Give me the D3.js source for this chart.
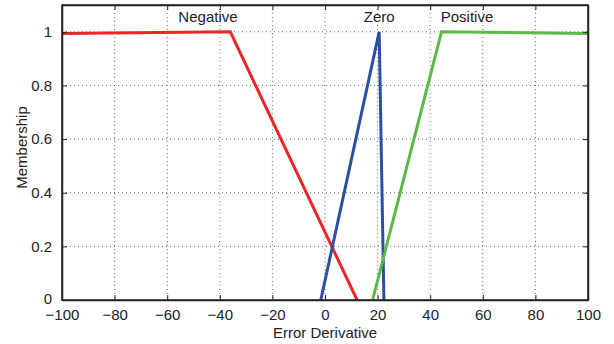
<!DOCTYPE html>
<html>
<head>
<meta charset="utf-8">
<script src="https://cdn.jsdelivr.net/npm/d3@7"></script>
<style>
  body { margin: 0; background: #fff; }
  text { font-family: "Liberation Sans", Arial, sans-serif; fill: #222; }
</style>
</head>
<body>
<div id="chart"></div>
<script>
// membership functions (x = error derivative, y = membership)
const negativeX = [-100, -36, 12.2];
const negativeY = [0.994, 1, 0];
const zeroX = [-1.6, 20.6, 22.4];
const zeroY = [0, 1, 0];
const positiveX = [18.1, 44.3, 100];
const positiveY = [0, 1, 0.994];

const setNames = ["Negative", "Zero", "Positive"];
const setLabelX = [-44.5, 20.6, 54];
const setColors = ["#ec2527", "#2c4ea3", "#5cb948"];

const xTicks = [-100, -80, -60, -40, -20, 0, 20, 40, 60, 80, 100];
const yTicks = [0, 0.2, 0.4, 0.6, 0.8, 1];

const totalWidth = 614, totalHeight = 344;
const margin = {top: 5, right: 26, bottom: 44, left: 62};
const width = totalWidth - margin.left - margin.right;
const height = totalHeight - margin.top - margin.bottom;

const svg = d3.select("#chart")
  .append("svg")
  .attr("width", totalWidth)
  .attr("height", totalHeight)
  .append("g")
  .attr("transform", "translate(" + margin.left + "," + margin.top + ")");

const x = d3.scaleLinear().domain([-100, 100]).range([0, width]);
const y = d3.scaleLinear().domain([0, 1.1]).range([height, 0]);

// dotted grid
svg.append("g")
  .selectAll("line")
  .data(xTicks.slice(1, -1))
  .enter()
  .append("line")
  .attr("x1", d => x(d)).attr("x2", d => x(d))
  .attr("y1", 0).attr("y2", height)
  .attr("stroke", "#444").attr("stroke-width", 0.8)
  .attr("stroke-dasharray", "1,3");
svg.append("g")
  .selectAll("line")
  .data(yTicks.slice(1))
  .enter()
  .append("line")
  .attr("x1", 0).attr("x2", width)
  .attr("y1", d => y(d)).attr("y2", d => y(d))
  .attr("stroke", "#444").attr("stroke-width", 0.8)
  .attr("stroke-dasharray", "1,3");

// curves
const line = d3.line().x(d => x(d[0])).y(d => y(d[1]));
const series = [
  d3.zip(negativeX, negativeY),
  d3.zip(zeroX, zeroY),
  d3.zip(positiveX, positiveY)
];
svg.selectAll("path.mf")
  .data(series)
  .enter()
  .append("path")
  .attr("class", "mf")
  .attr("d", line)
  .attr("fill", "none")
  .attr("stroke", (d, i) => setColors[i])
  .attr("stroke-width", 3)
  .attr("stroke-linejoin", "miter");

// axes with inward ticks (box style)
const tickLen = 5;
svg.append("g")
  .attr("transform", "translate(0," + height + ")")
  .call(d3.axisBottom(x).tickValues(xTicks).tickSizeInner(-tickLen).tickSizeOuter(0).tickPadding(9)
    .tickFormat(d => d < 0 ? "\u2212" + Math.abs(d) : d))
  .call(g => g.selectAll("text").style("font-size", "15px").attr("fill", "#222"));
svg.append("g")
  .call(d3.axisTop(x).tickValues(xTicks).tickSizeInner(-tickLen).tickSizeOuter(0).tickFormat(""));
svg.append("g")
  .call(d3.axisLeft(y).tickValues(yTicks).tickSizeInner(-tickLen).tickSizeOuter(0).tickPadding(10)
    .tickFormat(d3.format("")))
  .call(g => g.selectAll("text").style("font-size", "15px").attr("fill", "#222"))
  .call(g => g.selectAll(".tick").filter(d => d === 0).select("text").attr("dy", "0.2em"));
svg.append("g")
  .attr("transform", "translate(" + width + ",0)")
  .call(d3.axisRight(y).tickValues(yTicks).tickSizeInner(-tickLen).tickSizeOuter(0).tickFormat(""));

svg.selectAll(".domain").attr("stroke", "#222").attr("stroke-width", 1.5);
svg.selectAll(".tick line").attr("stroke", "#222");

// outer box
svg.append("rect")
  .attr("width", width).attr("height", height)
  .attr("fill", "none").attr("stroke", "#222").attr("stroke-width", 1.5);

// set labels
svg.selectAll("text.setname")
  .data(setNames)
  .enter()
  .append("text")
  .attr("class", "setname")
  .attr("x", (d, i) => x(setLabelX[i]))
  .attr("y", 17)
  .attr("text-anchor", "middle")
  .style("font-size", "15px")
  .text(d => d);

// axis titles
svg.append("text")
  .attr("x", width / 2)
  .attr("y", height + 38)
  .attr("text-anchor", "middle")
  .style("font-size", "15px")
  .text("Error Derivative");
svg.append("text")
  .attr("transform", "translate(" + (-35) + "," + (height / 2 - 5) + ") rotate(-90)")
  .attr("text-anchor", "middle")
  .style("font-size", "15px")
  .text("Membership");
</script>
</body>
</html>
